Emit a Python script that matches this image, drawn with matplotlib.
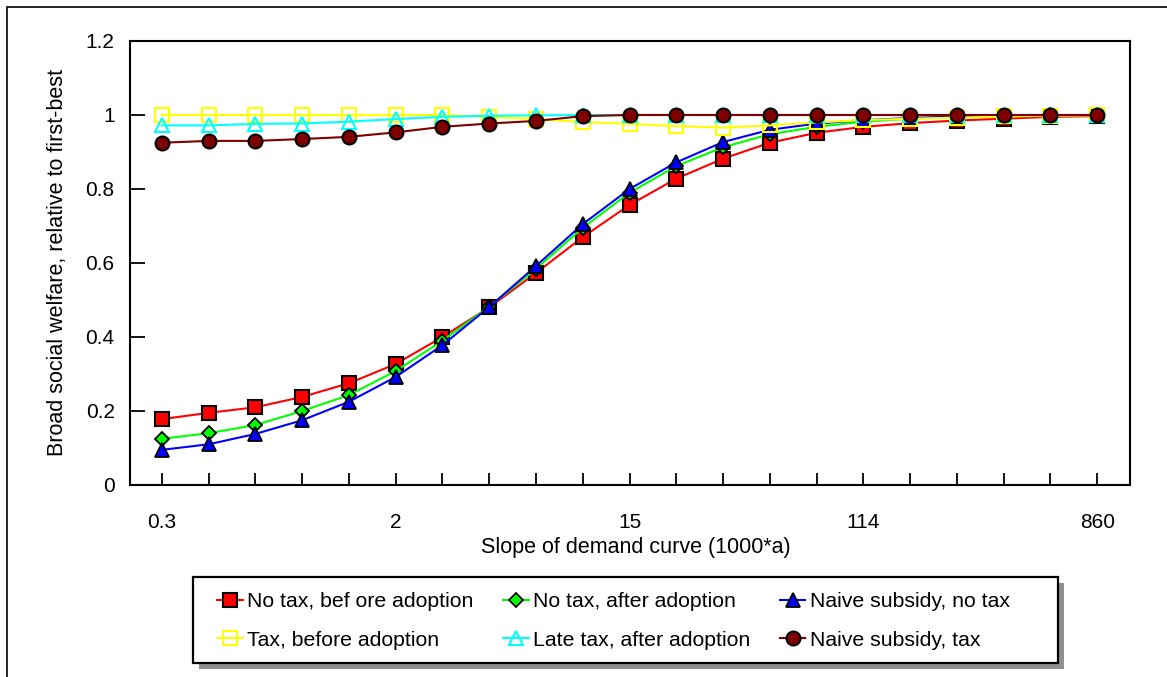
import matplotlib
matplotlib.use("Agg")
import matplotlib.pyplot as plt
from matplotlib.patches import Rectangle

plt.rcParams["font.family"] = ["Liberation Sans", "DejaVu Sans"]

# x categories (evenly spaced on the chart), labels only every 5th point
x_labels = ["0.3", "2", "15", "114", "860"]
n_points = 21

no_tax_before = [0.178, 0.195, 0.21, 0.238, 0.275, 0.327, 0.40, 0.48, 0.573, 0.67, 0.757,
                 0.828, 0.882, 0.925, 0.952, 0.968, 0.978, 0.985, 0.99, 0.995, 0.997]
no_tax_after = [0.125, 0.14, 0.162, 0.2, 0.243, 0.308, 0.39, 0.482, 0.584, 0.695, 0.79,
                0.862, 0.913, 0.948, 0.968, 0.982, 0.99, 0.995, 0.998, 0.999, 1.0]
naive_no_tax = [0.095, 0.11, 0.138, 0.175, 0.225, 0.292, 0.378, 0.481, 0.592, 0.705, 0.80,
                0.872, 0.927, 0.96, 0.977, 0.986, 0.992, 0.996, 0.998, 0.999, 1.0]
tax_before = [1.0, 1.0, 1.0, 1.0, 1.0, 1.0, 1.0, 0.995, 0.989, 0.981, 0.976,
              0.970, 0.966, 0.972, 0.98, 0.986, 0.99, 0.993, 0.996, 0.998, 0.999]
late_tax_after = [0.972, 0.972, 0.976, 0.977, 0.982, 0.989, 0.995, 0.998, 0.999, 1.0, 1.0,
                  1.0, 1.0, 1.0, 1.0, 1.0, 1.0, 1.0, 1.0, 1.0, 1.0]
naive_tax = [0.925, 0.930, 0.930, 0.935, 0.941, 0.953, 0.968, 0.977, 0.984, 0.997, 1.0,
             1.0, 1.0, 1.0, 1.0, 1.0, 1.0, 1.0, 1.0, 1.0, 1.0]

xs = list(range(n_points))

W, H = 1167, 677
fig = plt.figure(figsize=(W / 100, H / 100), dpi=100)
ax = fig.add_axes([130 / W, 1 - 485 / H, 1000 / W, 444 / H])

# outer frame of the picture
fig.patches.append(Rectangle((7 / W, -0.05), 1.2, 1.05 - 7 / H, transform=fig.transFigure,
                             fill=False, edgecolor="black", linewidth=1.2))

# legend box with a grey drop shadow
lx0, ly0, lx1, ly1 = 193, 577, 1058, 663
fig.patches.append(Rectangle(((lx0 + 6) / W, 1 - (ly1 + 6) / H), (lx1 - lx0) / W, (ly1 - ly0) / H,
                             transform=fig.transFigure, facecolor="#909090", edgecolor="none"))
fig.patches.append(Rectangle((lx0 / W, 1 - ly1 / H), (lx1 - lx0) / W, (ly1 - ly0) / H,
                             transform=fig.transFigure, facecolor="white", edgecolor="black",
                             linewidth=1.6))

h1, = ax.plot(xs, no_tax_before, color="#ff0000", lw=1.5, marker="s", ms=10,
              mfc="#ff0000", mec="black", mew=1.5, label="No tax, bef ore adoption")
h2, = ax.plot(xs, no_tax_after, color="#00ff00", lw=1.5, marker="D", ms=7.5,
              mfc="#00ff00", mec="black", mew=1.3, label="No tax, after adoption")
h3, = ax.plot(xs, naive_no_tax, color="#0000ff", lw=1.5, marker="^", ms=10,
              mfc="#0000ff", mec="black", mew=1.3, label="Naive subsidy, no tax")
h4, = ax.plot(xs, tax_before, color="#ffff00", lw=1.5, marker="s", ms=10,
              mfc="none", mec="#ffff00", mew=1.5, label="Tax, before adoption")
h5, = ax.plot(xs, late_tax_after, color="#00ffff", lw=1.5, marker="^", ms=10,
              mfc="none", mec="#00ffff", mew=1.5, label="Late tax, after adoption")
h6, = ax.plot(xs, naive_tax, color="#800000", lw=1.5, marker="o", ms=10,
              mfc="#800000", mec="black", mew=1.5, label="Naive subsidy, tax")

ax.set_xlim(-0.68, 20.7)
ax.set_ylim(0, 1.2)
ax.set_xticks(xs)
ax.set_xticklabels([x_labels[i // 5] if i % 5 == 0 else "" for i in xs])
ax.set_yticks([0, 0.2, 0.4, 0.6, 0.8, 1.0, 1.2])
ax.set_yticklabels(["0", "0.2", "0.4", "0.6", "0.8", "1", "1.2"])
ax.tick_params(axis="x", direction="in", length=9, width=1.3, pad=20, labelsize=15)
ax.tick_params(axis="y", direction="in", length=11, width=1.3, pad=11, labelsize=15)
for s in ax.spines.values():
    s.set_linewidth(1.5)

ax.set_xlabel("Slope of demand curve (1000*a)", fontsize=15.5, va="center")
ax.xaxis.set_label_coords(0.506, -0.14)
ax.set_ylabel("Broad social welfare, relative to first-best", fontsize=15.5, va="center")
ax.yaxis.set_label_coords(-0.072, 0.5)

# legend reads row by row: matplotlib fills columns, so interleave
handles = [h1, h4, h2, h5, h3, h6]
leg = fig.legend(handles=handles, labels=[h.get_label() for h in handles], ncol=3,
                 loc="center", bbox_to_anchor=(((lx0 + lx1) / 2 - 12) / W, 1 - ((ly0 + ly1) / 2 + 1) / H),
                 fontsize=15.3, frameon=False, handlelength=1.2, handletextpad=0.2,
                 columnspacing=1.4, borderpad=0.5, labelspacing=0.9)

fig.savefig("out.png", dpi=100)
